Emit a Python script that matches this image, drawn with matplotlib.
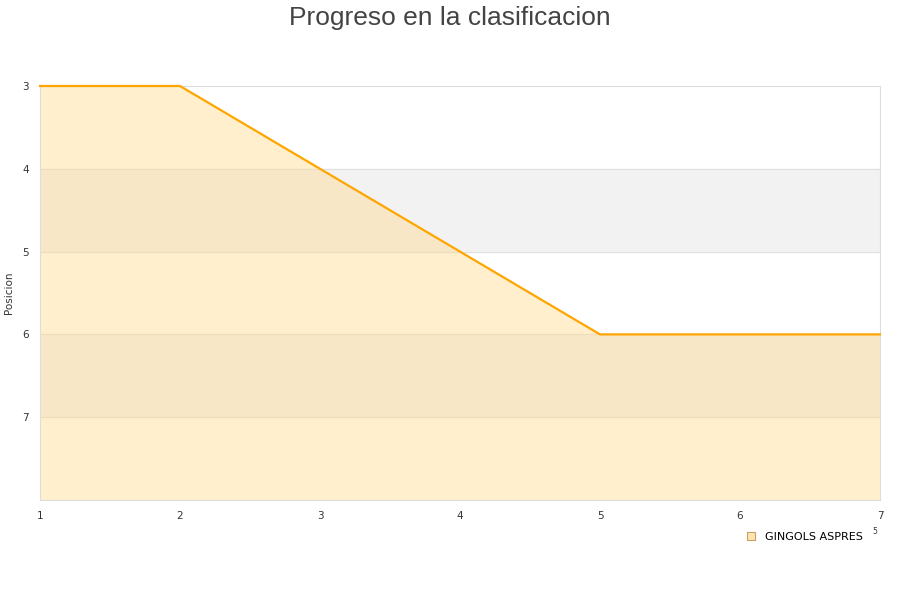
import matplotlib.pyplot as plt
from matplotlib.lines import Line2D

# datos
jornadas = [1, 2, 3, 4, 5, 6, 7]
posiciones = [3, 3, 4, 5, 6, 6, 6]
equipo = "GINGOLS ASPRES"
y_ticks = [3, 4, 5, 6, 7]
bandas = [(4, 5), (6, 7)]

fig = plt.figure(figsize=(9, 6), dpi=100)
ax = fig.add_axes([40 / 900, 100 / 600, 840 / 900, 414 / 600])

# bandas alternas
for b0, b1 in bandas:
    ax.axhspan(b0, b1, color="#f2f2f2", zorder=0)
for y in [4, 5, 6, 7]:
    ax.axhline(y, color="#e0e0e0", lw=0.8, zorder=0.5)

# relleno y linea
ax.fill_between(jornadas, posiciones, 8, color="#ffd98a", alpha=0.42, lw=0, zorder=1)
ax.plot(jornadas, posiciones, color="#ffa500", lw=1.6, zorder=3, clip_on=False)

ax.set_xlim(1, 7)
ax.set_ylim(8, 3)
ax.set_yticks(y_ticks)
ax.set_xticks(jornadas)
ax.tick_params(length=0, labelsize=7.5, colors="#333333", pad=8)
for s in ax.spines.values():
    s.set_color("#dddddd")

ax.set_ylabel("Posicion", fontsize=7.5, color="#333333", labelpad=6)
fig.text(0.5, 0.99, "Progreso en la clasificacion", ha="center", va="top",
         fontsize=19, color="#444444", family="Liberation Sans")

fig.text(875 / 900, 1 - 532 / 600, "5", fontsize=5.5, color="#333333", ha="center", va="center")

handle = Line2D([], [], marker="s", linestyle="none", markersize=6,
                markerfacecolor="#ffe4b3", markeredgecolor="#c9a060", markeredgewidth=0.8)
fig.legend([handle], [equipo], loc="center left", bbox_to_anchor=(735 / 900, 1 - 537 / 600),
           frameon=False, fontsize=8, handletextpad=0.3, borderaxespad=0)

fig.savefig("out.png", dpi=100)
